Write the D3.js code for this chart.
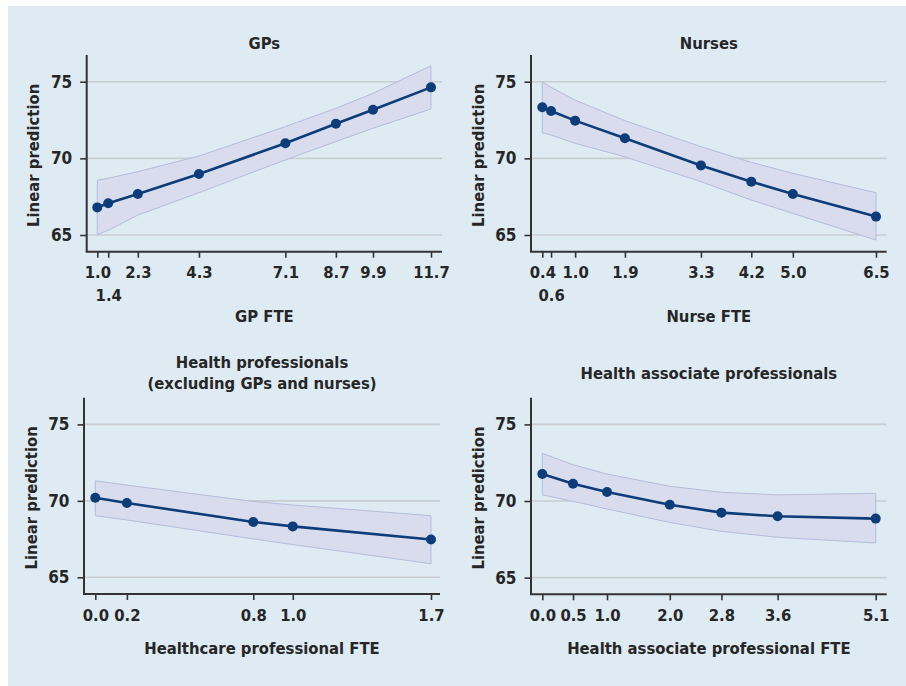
<!DOCTYPE html>
<html>
<head>
<meta charset="utf-8">
<script src="https://cdn.jsdelivr.net/npm/d3@7/dist/d3.min.js"></script>
<style>
  body { margin: 0; background: #fff; }
  text { font-family: "DejaVu Sans Condensed", "DejaVu Sans", sans-serif; font-weight: bold; fill: #262626; }
</style>
</head>
<body>
<div class="chart"></div>
<script>
// Linear prediction by staff FTE, four panels

var width = 906, height = 686;

// GPs
var gpX     = [1.0, 1.35, 2.3, 4.26, 7.03, 8.65, 9.84, 11.7];
var gpY     = [66.8, 67.07, 67.67, 68.98, 70.98, 72.26, 73.17, 74.63];
var gpLo    = [65.04, 65.3, 66.3, 67.76, 69.9, 71.09, 71.96, 73.22];
var gpHi    = [68.57, 68.7, 69.13, 70.15, 72.07, 73.26, 74.24, 76.04];
var gpTicks = ["1.0", "1.4", "2.3", "4.3", "7.1", "8.7", "9.9", "11.7"];
var gpRow   = [0, 1, 0, 0, 0, 0, 0, 0];

// Nurses
var nuX     = [0.4, 0.56, 1.0, 1.91, 3.3, 4.22, 4.98, 6.5];
var nuY     = [73.33, 73.09, 72.46, 71.31, 69.54, 68.48, 67.67, 66.2];
var nuLo    = [71.67, 71.52, 70.98, 70.1, 68.48, 67.28, 66.41, 64.67];
var nuHi    = [75.0, 74.63, 73.8, 72.46, 70.76, 69.74, 69.02, 67.76];
var nuTicks = ["0.4", "0.6", "1.0", "1.9", "3.3", "4.2", "5.0", "6.5"];
var nuRow   = [0, 1, 0, 0, 0, 0, 0, 0];

// Health professionals
var hpX     = [0.0, 0.16, 0.8, 1.0, 1.7];
var hpY     = [70.2, 69.86, 68.62, 68.33, 67.47];
var hpLo    = [69.03, 68.75, 67.51, 67.14, 65.89];
var hpHi    = [71.31, 71.03, 69.96, 69.73, 69.03];
var hpTicks = ["0.0", "0.2", "0.8", "1.0", "1.7"];

// Health associate professionals
var haX     = [0.0, 0.47, 0.99, 1.95, 2.74, 3.6, 5.1];
var haY     = [71.76, 71.13, 70.59, 69.76, 69.24, 69.0, 68.85];
var haLo    = [70.4, 69.98, 69.48, 68.6, 68.02, 67.63, 67.26];
var haHi    = [73.11, 72.37, 71.76, 70.96, 70.57, 70.4, 70.5];
var haTicks = ["0.0", "0.5", "1.0", "2.0", "2.8", "3.6", "5.1"];

var yTicks = [65, 70, 75];

var panels = [
  {title: ["GPs"], titleY: 49, xlab: "GP FTE", xlabY: 322,
   x: gpX, y: gpY, lo: gpLo, hi: gpHi, ticks: gpTicks, row: gpRow,
   left: 86.7, top: 55, right: 442, bottom: 251.7, padL: 10.6, padR: 11},
  {title: ["Nurses"], titleY: 49, xlab: "Nurse FTE", xlabY: 322,
   x: nuX, y: nuY, lo: nuLo, hi: nuHi, ticks: nuTicks, row: nuRow,
   left: 531, top: 55, right: 886.7, bottom: 251.7, padL: 11.3, padR: 10.7},
  {title: ["Health professionals", "(excluding GPs and nurses)"], titleY: 368,
   xlab: "Healthcare professional FTE", xlabY: 654,
   x: hpX, y: hpY, lo: hpLo, hi: hpHi, ticks: hpTicks, row: null,
   left: 84, top: 397.7, right: 440, bottom: 594, padL: 11.3, padR: 9},
  {title: ["Health associate professionals"], titleY: 379,
   xlab: "Health associate professional FTE", xlabY: 654,
   x: haX, y: haY, lo: haLo, hi: haHi, ticks: haTicks, row: null,
   left: 531, top: 397.7, right: 886.7, bottom: 594.3, padL: 11.3, padR: 11}
];

var svg = d3.select(".chart").append("svg")
    .attr("width", width)
    .attr("height", height);

svg.append("rect")
    .attr("x", 8).attr("y", 6)
    .attr("width", width - 8).attr("height", height - 6)
    .attr("fill", "#deebf3");

panels.forEach(drawPanel);

function drawPanel(p) {

    var xs = d3.scaleLinear()
        .domain([p.x[0], p.x[p.x.length - 1]])
        .range([p.left + p.padL, p.right - p.padR]);

    var ys = d3.scaleLinear()
        .domain([65, 75])
        .range([p.bottom - 16.7, p.top + 26.7]);

    var g = svg.append("g");

    // gridlines
    g.selectAll(".grid")
        .data(yTicks)
        .enter().append("line")
        .attr("x1", p.left).attr("x2", p.right)
        .attr("y1", d => ys(d)).attr("y2", d => ys(d))
        .attr("stroke", "#c9cdd1")
        .attr("stroke-width", 1.6);

    var pts = p.x.map((v, i) => ({x: v, y: p.y[i], lo: p.lo[i], hi: p.hi[i]}));

    // confidence band
    var area = d3.area()
        .x(d => xs(d.x))
        .y0(d => ys(d.lo))
        .y1(d => ys(d.hi));

    g.append("path")
        .datum(pts)
        .attr("d", area)
        .attr("fill", "#d8dbeb")
        .attr("fill-opacity", 0.95)
        .attr("stroke", "#b6bbdc")
        .attr("stroke-width", 1);

    var line = d3.line()
        .x(d => xs(d.x))
        .y(d => ys(d.y));

    g.append("path")
        .datum(pts)
        .attr("d", line)
        .attr("fill", "none")
        .attr("stroke", "#0c3d7a")
        .attr("stroke-width", 2.6);

    g.selectAll(".dot")
        .data(pts)
        .enter().append("circle")
        .attr("cx", d => xs(d.x))
        .attr("cy", d => ys(d.y))
        .attr("r", 5)
        .attr("fill", "#0c3d7a");

    // y axis
    var yAxis = d3.axisLeft(ys).tickValues(yTicks).tickSize(6.5).tickPadding(8);
    var ya = g.append("g")
        .attr("transform", "translate(" + p.left + ",0)")
        .call(yAxis);
    ya.select(".domain").remove();
    ya.selectAll(".tick line").attr("stroke", "#333").attr("stroke-width", 1.6);
    ya.selectAll(".tick text").attr("font-size", 17).attr("fill", "#262626");

    g.append("line")
        .attr("x1", p.left).attr("x2", p.left)
        .attr("y1", p.top).attr("y2", p.bottom)
        .attr("stroke", "#333").attr("stroke-width", 2);

    // x axis
    var xAxis = d3.axisBottom(xs).tickValues(p.x).tickSize(6).tickPadding(9)
        .tickFormat((d, i) => p.ticks[i]);
    var xa = g.append("g")
        .attr("transform", "translate(0," + p.bottom + ")")
        .call(xAxis);
    xa.select(".domain").remove();
    xa.selectAll(".tick line").attr("stroke", "#333").attr("stroke-width", 1.6);
    xa.selectAll(".tick text").attr("font-size", 16.5).attr("fill", "#262626")
        .attr("dy", (d, i) => (p.row && p.row[i] ? 1.38 : 0) + 0.71 + "em");

    g.append("line")
        .attr("x1", p.left - 1).attr("x2", p.right)
        .attr("y1", p.bottom).attr("y2", p.bottom)
        .attr("stroke", "#333").attr("stroke-width", 2);

    var cx = (p.left + p.right) / 2;

    // title
    var t = g.append("text")
        .attr("x", cx)
        .attr("y", p.titleY)
        .attr("text-anchor", "middle")
        .attr("font-size", 16.5);
    t.selectAll("tspan")
        .data(p.title)
        .enter().append("tspan")
        .attr("x", cx)
        .attr("dy", (d, i) => i ? "1.3em" : 0)
        .text(d => d);

    // x label
    g.append("text")
        .attr("x", cx)
        .attr("y", p.xlabY)
        .attr("text-anchor", "middle")
        .attr("font-size", 16.5)
        .text(p.xlab);

    // y label
    g.append("text")
        .attr("transform", "translate(" + (p.left - 47.5) + "," + ((p.top + p.bottom) / 2 + 2) + ") rotate(-90)")
        .attr("text-anchor", "middle")
        .attr("font-size", 16.5)
        .text("Linear prediction");
}
</script>
</body>
</html>
